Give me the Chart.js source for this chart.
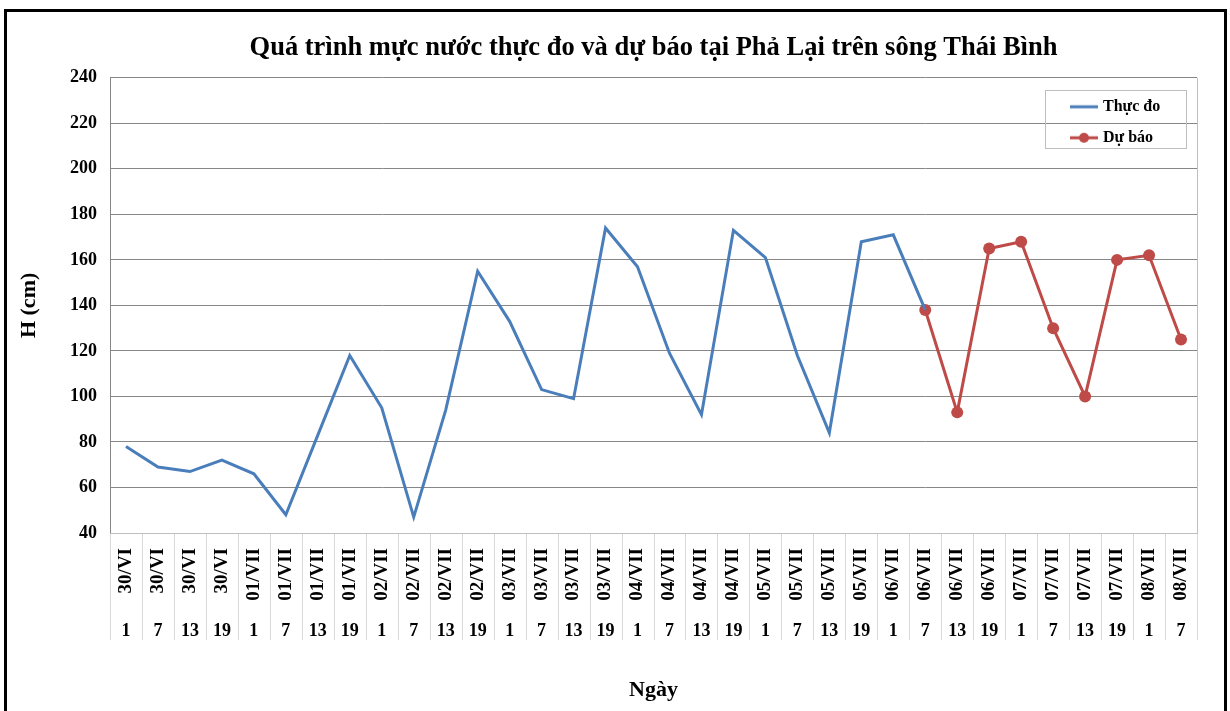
<!DOCTYPE html>
<html>
<head>
<meta charset="utf-8">
<script src="https://cdn.jsdelivr.net/npm/chart.js@4.4.0/dist/chart.umd.min.js"></script>
<style>
  html, body { margin: 0; padding: 0; background: #fff; }
  canvas { display: block; }
</style>
</head>
<body>
<canvas id="chart" width="1230" height="711"></canvas>
<script>
// categories: day (top row, rotated) and hour (bottom row)
const dates = [
  '30/VI', '30/VI', '30/VI', '30/VI',
  '01/VII', '01/VII', '01/VII', '01/VII',
  '02/VII', '02/VII', '02/VII', '02/VII',
  '03/VII', '03/VII', '03/VII', '03/VII',
  '04/VII', '04/VII', '04/VII', '04/VII',
  '05/VII', '05/VII', '05/VII', '05/VII',
  '06/VII', '06/VII', '06/VII', '06/VII',
  '07/VII', '07/VII', '07/VII', '07/VII',
  '08/VII', '08/VII'
];
const hours = [
  '1', '7', '13', '19', '1', '7', '13', '19', '1', '7', '13', '19',
  '1', '7', '13', '19', '1', '7', '13', '19', '1', '7', '13', '19',
  '1', '7', '13', '19', '1', '7', '13', '19', '1', '7'
];

// H (cm)
const measured = [
  78, 69, 67, 72, 66, 48, 83, 118, 95, 47, 94, 155,
  133, 103, 99, 174, 157, 119, 92, 173, 161, 118, 84, 168,
  171, 138, null, null, null, null, null, null, null, null
];
const forecast = [
  null, null, null, null, null, null, null, null, null, null, null, null,
  null, null, null, null, null, null, null, null, null, null, null, null,
  null, 138, 93, 165, 168, 130, 100, 160, 162, 125
];

const yMin = 40;
const yMax = 240;
const yStep = 20;

const BLUE = '#4a7ebb';
const RED = '#be4b48';
const GRID = '#878787';

Chart.defaults.font.family = "'Liberation Serif', 'Times New Roman', serif";
Chart.defaults.font.weight = 'bold';
Chart.defaults.color = '#000';

function legendIcon(color, dot) {
  const c = document.createElement('canvas');
  c.width = 28;
  c.height = 14;
  const g = c.getContext('2d');
  g.strokeStyle = color;
  g.lineWidth = 3;
  g.beginPath();
  g.moveTo(0, 7);
  g.lineTo(28, 7);
  g.stroke();
  if (dot) {
    g.fillStyle = color;
    g.beginPath();
    g.arc(14, 7, 5, 0, Math.PI * 2);
    g.fill();
  }
  return c;
}

const icons = [legendIcon(BLUE, false), legendIcon(RED, true)];

const framePlugin = {
  id: 'frame',
  beforeDraw(chart) {
    const { ctx, width, height } = chart;
    ctx.save();
    ctx.fillStyle = '#fff';
    ctx.fillRect(0, 0, width, height);
    ctx.strokeStyle = '#000';
    ctx.lineWidth = 3;
    ctx.strokeRect(5.5, 10.5, 1220, 720);
    ctx.restore();
  },
  afterLayout(chart) {
    // put the legend in the top right corner of the plot
    const lg = chart.legend;
    const ca = chart.chartArea;
    lg.left = ca.right - 139;
    lg.right = lg.left + lg.width;
    lg.top = ca.top + 6;
    lg.bottom = lg.top + 80;
  },
  beforeDatasetsDraw(chart) {
    const { ctx } = chart;
    const ca = chart.chartArea;
    ctx.save();
    ctx.strokeStyle = '#bfbfbf';
    ctx.lineWidth = 1;
    ctx.beginPath();
    ctx.moveTo(Math.round(ca.right) + 0.5, ca.top);
    ctx.lineTo(Math.round(ca.right) + 0.5, ca.bottom);
    ctx.stroke();
    // legend frame
    ctx.strokeRect(Math.round(ca.right) - 151.5, Math.round(ca.top) + 12.5, 141, 58);
    ctx.restore();
  },
  afterDraw(chart) {
    // separators between categories under the axis
    const { ctx } = chart;
    const xs = chart.scales.x;
    const n = hours.length;
    ctx.save();
    ctx.strokeStyle = '#d9d9d9';
    ctx.lineWidth = 1;
    for (let i = 0; i <= n; i++) {
      const x = Math.round(xs.left + i * xs.width / n) + 0.5;
      ctx.beginPath();
      ctx.moveTo(x, chart.chartArea.bottom + 1);
      ctx.lineTo(x, 640);
      ctx.stroke();
    }
    ctx.restore();
  }
};

new Chart(document.getElementById('chart'), {
  type: 'line',
  data: {
    labels: hours,
    datasets: [
      {
        label: 'Thực đo',
        data: measured,
        borderColor: BLUE,
        backgroundColor: BLUE,
        borderWidth: 3,
        pointRadius: 0,
        tension: 0
      },
      {
        label: 'Dự báo',
        data: forecast,
        borderColor: RED,
        backgroundColor: RED,
        borderWidth: 3,
        pointRadius: 6,
        pointBorderWidth: 0,
        pointBackgroundColor: RED,
        tension: 0
      }
    ]
  },
  options: {
    responsive: false,
    animation: false,
    devicePixelRatio: 1,
    layout: { padding: { left: 0, right: 33, top: 32, bottom: 0 } },
    plugins: {
      title: {
        display: true,
        fullSize: false,
        text: 'Quá trình mực nước thực đo và dự báo tại Phả Lại trên sông Thái Bình',
        font: { size: 26.5, weight: 'bold' },
        color: '#000',
        padding: { top: 0, bottom: 14 }
      },
      legend: {
        position: 'chartArea',
        align: 'start',
        labels: {
          usePointStyle: true,
          pointStyleWidth: 22,
          padding: 15,
          font: { size: 16, weight: 'bold' },
          color: '#000',
          generateLabels(chart) {
            return chart.data.datasets.map((ds, i) => ({
              text: ds.label,
              pointStyle: icons[i],
              fillStyle: ds.borderColor,
              strokeStyle: ds.borderColor,
              lineWidth: 0,
              hidden: false,
              datasetIndex: i
            }));
          }
        }
      },
      tooltip: { enabled: false }
    },
    scales: {
      y: {
        min: yMin,
        max: yMax,
        afterFit(scale) { scale.width = 110; },
        ticks: {
          stepSize: yStep,
          padding: 13,
          font: { size: 18, weight: 'bold' },
          color: '#000'
        },
        grid: { color: GRID, drawTicks: false },
        border: { color: GRID },
        title: {
          display: true,
          text: 'H (cm)',
          font: { size: 22, weight: 'bold' },
          color: '#000',
          padding: { top: 16, bottom: 0 }
        }
      },
      x2: {
        type: 'category',
        labels: dates,
        position: 'bottom',
        offset: true,
        weight: 0,
        afterFit(scale) { scale.height = 75; },
        grid: { display: false },
        border: { display: true, color: '#bfbfbf' },
        ticks: {
          autoSkip: false,
          minRotation: 90,
          maxRotation: 90,
          padding: 7,
          font: { size: 19, weight: 'bold' },
          color: '#000'
        }
      },
      x: {
        type: 'category',
        position: 'bottom',
        offset: true,
        weight: 1,
        afterFit(scale) { scale.height = 103; },
        grid: { display: false },
        border: { display: false },
        ticks: {
          autoSkip: false,
          maxRotation: 0,
          padding: 5,
          font: { size: 18, weight: 'bold' },
          color: '#000'
        },
        title: {
          display: true,
          text: 'Ngày',
          font: { size: 22, weight: 'bold' },
          color: '#000',
          padding: { top: 0, bottom: 7 }
        }
      }
    }
  },
  plugins: [framePlugin]
});
</script>
</body>
</html>
